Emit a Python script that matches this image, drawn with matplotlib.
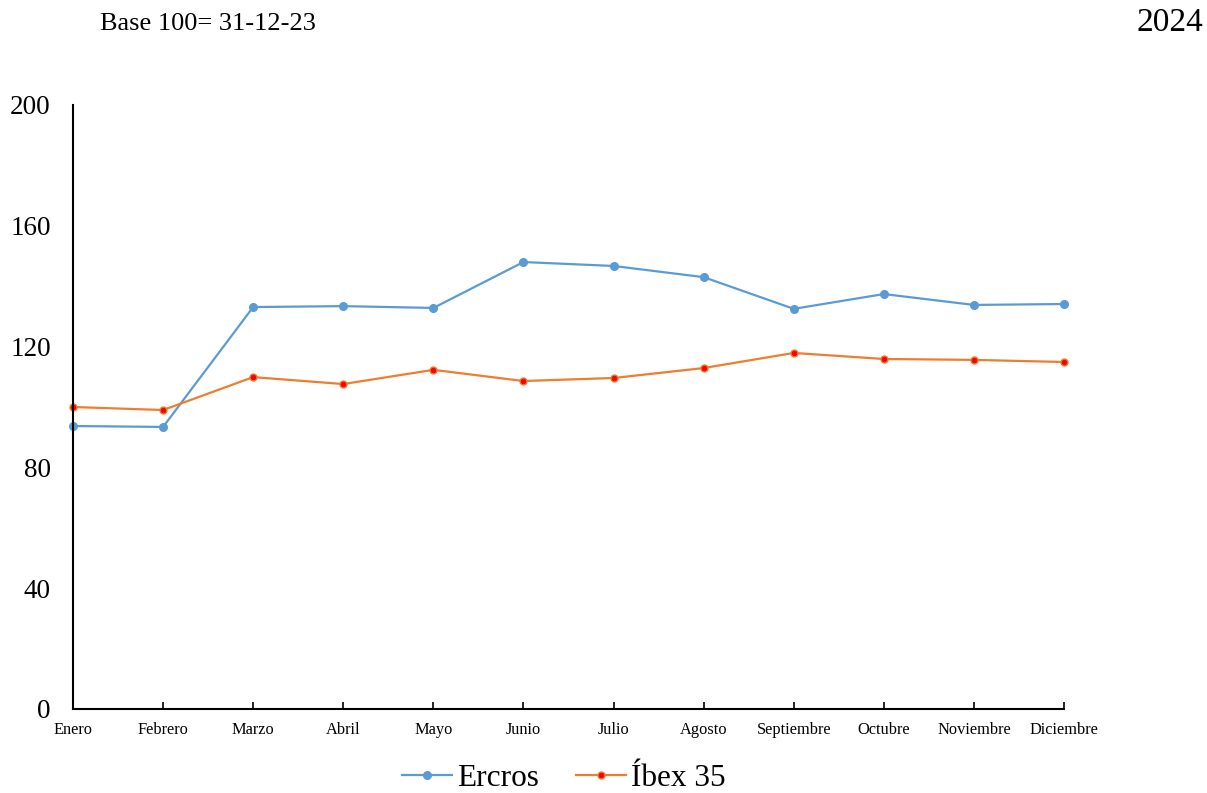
import matplotlib

matplotlib.use("Agg")
import matplotlib.pyplot as plt

months = ["Enero", "Febrero", "Marzo", "Abril", "Mayo", "Junio", "Julio",
          "Agosto", "Septiembre", "Octubre", "Noviembre", "Diciembre"]
ercros = [93.7, 93.4, 133.1, 133.4, 132.8, 148.0, 146.7, 143.0, 132.5, 137.4, 133.8, 134.1]
ibex = [100.0, 99.0, 109.9, 107.6, 112.3, 108.6, 109.6, 112.9, 117.9, 115.9, 115.6, 114.9]
y_ticks = [0, 40, 80, 120, 160, 200]

plt.rcParams["font.family"] = ["Liberation Serif", "DejaVu Serif"]

fig = plt.figure(figsize=(12.07, 7.93), dpi=100)
ax = fig.add_axes([73 / 1207, 1 - 709 / 793, (1064 - 73) / 1207, (709 - 105) / 793])

x = list(range(len(months)))
ax.plot(x, ercros, color="#5B9BD5", lw=1.6, marker="o", ms=5.5,
        mfc="#5B9BD5", mec="#5B9BD5", label="Ercros", clip_on=False)
ax.plot(x, ibex, color="#ED7D31", lw=1.6, marker="o", ms=5,
        mfc="#FF0000", mec="#ED7D31", mew=1, label="Íbex 35", clip_on=False)

ax.set_xlim(0, len(months) - 1)
ax.set_ylim(0, 200)
ax.set_yticks(y_ticks)
ax.set_yticklabels([str(v) for v in y_ticks], fontsize=19.5)
ax.tick_params(axis="y", length=0, pad=16)
ax.set_xticks(x)
ax.set_xticklabels(months, fontsize=11.8)
ax.tick_params(axis="x", direction="in", length=5, width=1.2, pad=9)

for side in ("top", "right"):
    ax.spines[side].set_visible(False)
for side in ("left", "bottom"):
    ax.spines[side].set_linewidth(1.5)
    ax.spines[side].set_color("black")

fig.text(100 / 1207, 1 - 24 / 793, "Base 100= 31-12-23", fontsize=19, va="center", ha="left")
fig.text(1203 / 1207, 1 - 23 / 793, "2024", fontsize=24, va="center", ha="right")

fig.legend(loc="center", bbox_to_anchor=(564 / 1207, 1 - 778 / 793), ncol=2,
           frameon=False, fontsize=22.5, handlelength=1.6, handletextpad=0.15,
           columnspacing=1.2)

fig.savefig("out.png", dpi=100)
plt.close(fig)
